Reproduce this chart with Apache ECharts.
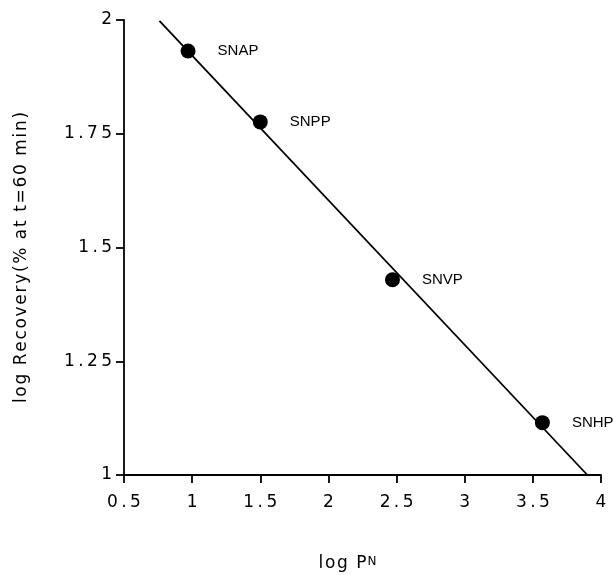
<!DOCTYPE html>
<html><head><meta charset="utf-8">
<script src="https://cdn.jsdelivr.net/npm/echarts@6/dist/echarts.min.js"></script>
<style>html,body{margin:0;padding:0;background:#fff}#c{width:616px;height:575px}</style>
</head><body><div id="c"></div>
<script>
const compounds = ['SNAP', 'SNPP', 'SNVP', 'SNHP'];
const logPN = [0.97, 1.50, 2.47, 3.57];
const logRecovery = [1.932, 1.776, 1.429, 1.115];
const fitLineX = [0.76, 3.90];
const fitLineY = [1.998, 1.0];
const xTicks = [0.5, 1, 1.5, 2, 2.5, 3, 3.5, 4];
const yTicks = [1, 1.25, 1.5, 1.75, 2];
const xTitle = 'log P';
const xTitleSup = 'N';
const yTitle = 'log Recovery(% at t=60 min)';

const wide = 'DejaVu Sans, Verdana, sans-serif';
const font = 'Liberation Sans, Arial, Helvetica, sans-serif';
const spaced = s => String(s).split('').join('\u2009');
const spacedTitle = s => s.split(' ').map(w => w.split('').join('\u200a')).join('\u2002');

const chart = echarts.init(document.getElementById('c'), null, {renderer: 'canvas'});
chart.setOption({
  animation: false,
  backgroundColor: '#fff',
  grid: {left: 124, right: 15, top: 20, bottom: 100, containLabel: false, outerBoundsMode: 'none'},
  xAxis: {
    type: 'value', min: xTicks[0], max: xTicks[xTicks.length - 1], interval: 0.5,
    axisLine: {show: true, onZero: false, lineStyle: {color: '#000', width: 1.8}},
    axisTick: {show: true, length: 8, lineStyle: {color: '#000', width: 1.8}},
    splitLine: {show: false},
    axisLabel: {color: '#000', fontSize: 17, fontFamily: wide, margin: 19,
      formatter: v => spaced(v)},
    name: spacedTitle(xTitle) + '{n|' + xTitleSup + '}', nameLocation: 'middle', nameGap: 80,
    nameTextStyle: {color: '#000', fontSize: 17, fontFamily: wide, padding: [0, 30, 0, 0],
      rich: {n: {fontSize: 12, fontFamily: wide, color: '#000', padding: [0, 0, 4, 1]}}}
  },
  yAxis: {
    type: 'value', min: yTicks[0], max: yTicks[yTicks.length - 1], interval: 0.25,
    axisLine: {show: true, onZero: false, lineStyle: {color: '#000', width: 1.8}},
    axisTick: {show: true, length: 8, lineStyle: {color: '#000', width: 1.8}},
    splitLine: {show: false},
    axisLabel: {color: '#000', fontSize: 17, fontFamily: wide, margin: 12,
      formatter: v => spaced(v)},
    name: spacedTitle(yTitle), nameLocation: 'middle', nameGap: 94,
    nameTextStyle: {color: '#000', fontSize: 17, fontFamily: wide, padding: [0, 20, 0, 0]}
  },
  series: [
    {
      type: 'line', data: fitLineX.map((x, i) => [x, fitLineY[i]]),
      symbol: 'none', lineStyle: {color: '#000', width: 1.8}, z: 2
    },
    {
      type: 'scatter', data: logPN.map((x, i) => [x, logRecovery[i], compounds[i]]),
      symbol: 'circle', symbolSize: 15, itemStyle: {color: '#000', opacity: 1}, z: 3,
      label: {show: true, position: 'right', distance: 22, color: '#000',
        fontSize: 15, fontFamily: font, formatter: p => p.data[2]}
    }
  ]
});
</script></body></html>
